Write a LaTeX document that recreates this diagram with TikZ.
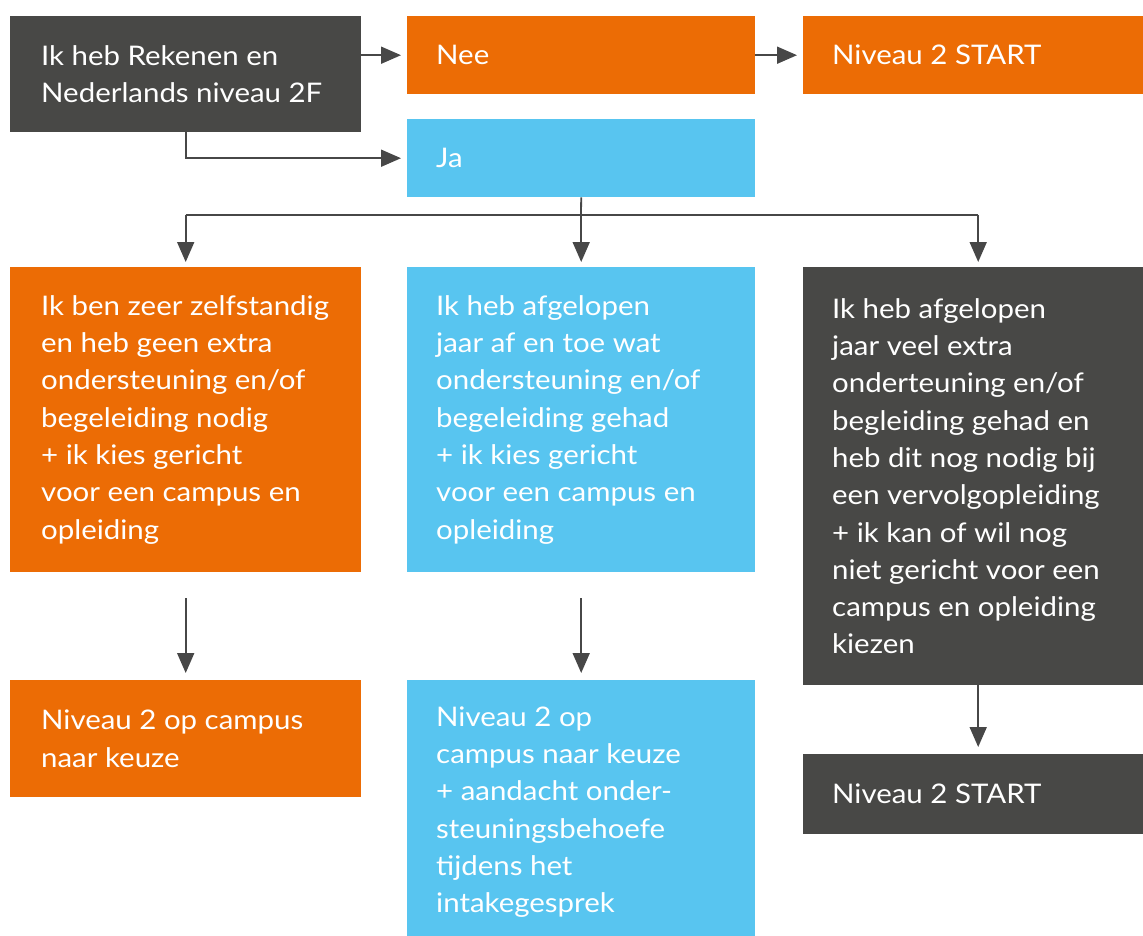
\documentclass[tikz,border=0pt]{standalone}
\usepackage{fontspec}
\setmainfont{Lato}[FakeStretch=1.09]
\usetikzlibrary{arrows.meta}
\definecolor{cOr}{HTML}{EC6C05}
\definecolor{cBl}{HTML}{58C5F0}
\definecolor{cDk}{HTML}{484846}
\definecolor{cAr}{HTML}{474747}
\begin{document}
\begin{tikzpicture}[x=1pt,y=-1pt,
  box/.style n args={3}{fill=#1, draw=none, inner sep=0pt, anchor=north west,
    minimum width=#2, minimum height=#3},
  txt/.style={anchor=west, inner sep=0pt, align=left, text=white,
    font=\fontsize{27}{37.3}\selectfont},
  arr/.style={draw=cAr, line width=1.8pt, -{Triangle[length=20pt,width=17pt]}},
  ln/.style={draw=cAr, line width=1.8pt}]
\useasboundingbox[fill=white] (0,0) rectangle (1143,936);
% boxes
\node[box={cDk}{351pt}{116pt}] (A) at (10,16) {};
\node[box={cOr}{348pt}{78pt}] (Nee) at (407,16) {};
\node[box={cOr}{350pt}{78pt}] (S1) at (803,16) {};
\node[box={cBl}{348pt}{78pt}] (Ja) at (407,119) {};
\node[box={cOr}{351pt}{305pt}] (B1) at (10,267) {};
\node[box={cBl}{348pt}{305pt}] (B2) at (407,267) {};
\node[box={cDk}{350pt}{418pt}] (B3) at (803,267) {};
\node[box={cOr}{351pt}{117pt}] (C1) at (10,680) {};
\node[box={cBl}{348pt}{264pt}] (C2) at (407,680) {};
\node[box={cDk}{350pt}{80pt}] (C3) at (803,754) {};
% texts
\node[txt] (tA) at ([xshift=31pt]A.west) {Ik heb Rekenen en\\Nederlands niveau 2F};
\node[txt] (tNee) at ([xshift=29pt]Nee.west) {Nee};
\node[txt] (tS1) at ([xshift=29pt]S1.west) {Niveau 2 START};
\node[txt] (tJa) at ([xshift=29pt]Ja.west) {Ja};
\node[txt] (tB1) at ([xshift=31pt]B1.west) {Ik ben zeer zelfstandig\\en heb geen extra\\ondersteuning en/of\\begeleiding nodig\\+ ik kies gericht\\voor een campus en\\opleiding};
\node[txt] (tB2) at ([xshift=29pt]B2.west) {Ik heb afgelopen\\jaar af en toe wat\\ondersteuning en/of\\begeleiding gehad\\+ ik kies gericht\\voor een campus en\\opleiding};
\node[txt] (tB3) at ([xshift=29pt]B3.west) {Ik heb afgelopen\\jaar veel extra\\onderteuning en/of\\begleiding gehad en\\heb dit nog nodig bij\\een vervolgopleiding\\+ ik kan of wil nog\\niet gericht voor een\\campus en opleiding\\kiezen};
\node[txt] (tC1) at ([xshift=31pt]C1.west) {Niveau 2 op campus\\naar keuze};
\node[txt] (tC2) at ([xshift=29pt]C2.west) {Niveau 2 op\\campus naar keuze\\+ aandacht onder-\\steuningsbehoefe\\tijdens het\\intakegesprek};
\node[txt] (tC3) at ([xshift=29pt]C3.west) {Niveau 2 START};
% connectors
\draw[arr, shorten >=6pt] (A.east |- Nee.west) -- (Nee.west);
\draw[arr, shorten >=6pt] (Nee.east) -- (S1.west);
\draw[arr, shorten >=6pt] (A.south) |- (Ja.west);
\coordinate (sp) at (581,215);
\draw[ln] (Ja.south) -- (sp);
\draw[ln] (sp -| B1.north) -- (sp -| B3.north);
\draw[arr, shorten >=5pt] (sp -| B1.north) -- (B1.north);
\draw[arr, shorten >=5pt] (sp -| B2.north) -- (B2.north);
\draw[arr, shorten >=5pt] (sp -| B3.north) -- (B3.north);
\draw[arr, shorten <=26pt, shorten >=7pt] (B1.south) -- (C1.north);
\draw[arr, shorten <=26pt, shorten >=7pt] (B2.south) -- (C2.north);
\draw[arr, shorten >=7pt] (B3.south) -- (C3.north);
\end{tikzpicture}
\end{document}
